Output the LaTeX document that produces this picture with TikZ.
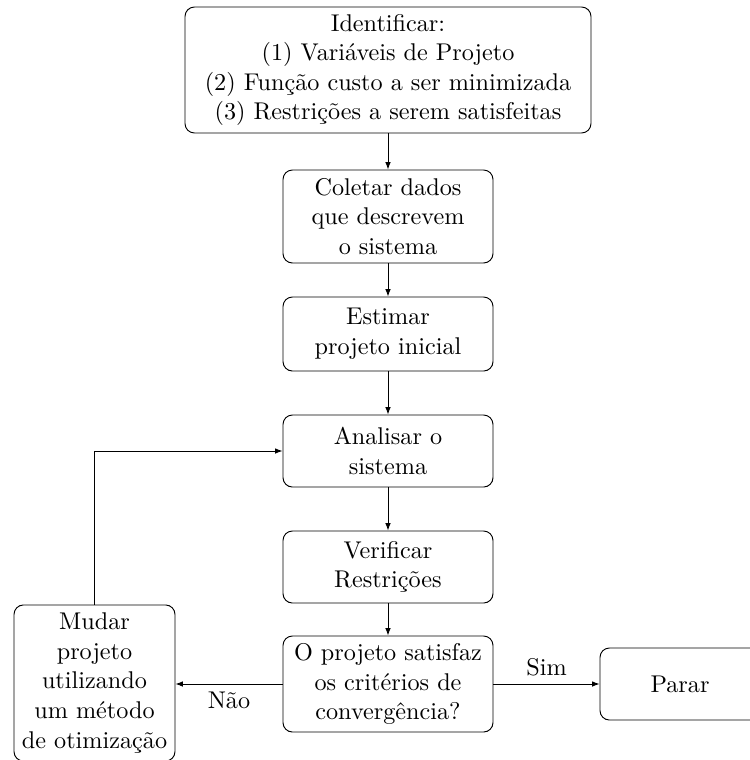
\documentclass[tikz,border=0pt]{standalone}
\usetikzlibrary{arrows.meta}
\begin{document}
\begin{tikzpicture}[x=0.4255pt, y=-0.4255pt,
  every node/.style={font=\fontsize{10.3}{12.6}\selectfont},
  box/.style={draw, rounded corners=4pt, align=center, inner sep=2pt},
  conn/.style={-{Latex[length=3.2pt,width=2.4pt]}}]
\useasboundingbox (0,0) rectangle (750,760);
\node[box, minimum width=172.75pt, minimum height=53.6pt] (ident) at (388,70)
  {Identificar:\\(1) Variáveis de Projeto\\(2) Função custo a ser minimizada\\(3) Restrições a serem satisfeitas};
\node[box, minimum width=89.36pt, minimum height=39.57pt] (coletar) at (388,216.5)
  {Coletar dados\\que descrevem\\o sistema};
\node[box, minimum width=89.36pt, minimum height=31.49pt] (estimar) at (388,334)
  {Estimar\\projeto inicial};
\node[box, minimum width=89.36pt, minimum height=30.64pt] (analisar) at (388,451)
  {Analisar o\\sistema};
\node[box, minimum width=89.36pt, minimum height=30.64pt] (verificar) at (388,567)
  {Verificar\\Restrições};
\node[box, minimum width=89.36pt, minimum height=40.85pt] (conv) at (388,684)
  {O projeto satisfaz\\os critérios de\\convergência?};
\node[box, minimum width=68.5pt, minimum height=66.4pt] (mudar) at (94.5,683)
  {Mudar\\projeto\\utilizando\\um método\\de otimização};
\node[box, minimum width=68.08pt, minimum height=30.64pt] (parar) at (680,684)
  {Parar};
\draw[conn] (ident) -- (coletar);
\draw[conn] (coletar) -- (estimar);
\draw[conn] (estimar) -- (analisar);
\draw[conn] (analisar) -- (verificar);
\draw[conn] (verificar) -- (conv);
\draw[conn] (conv.east) -- node[midway, above] {Sim} (parar.west);
\draw[conn] (conv.west) -- node[midway, below] {Não} (mudar.east |- conv.west);
\draw[conn] (mudar.north) |- (analisar.west);
\end{tikzpicture}
\end{document}
